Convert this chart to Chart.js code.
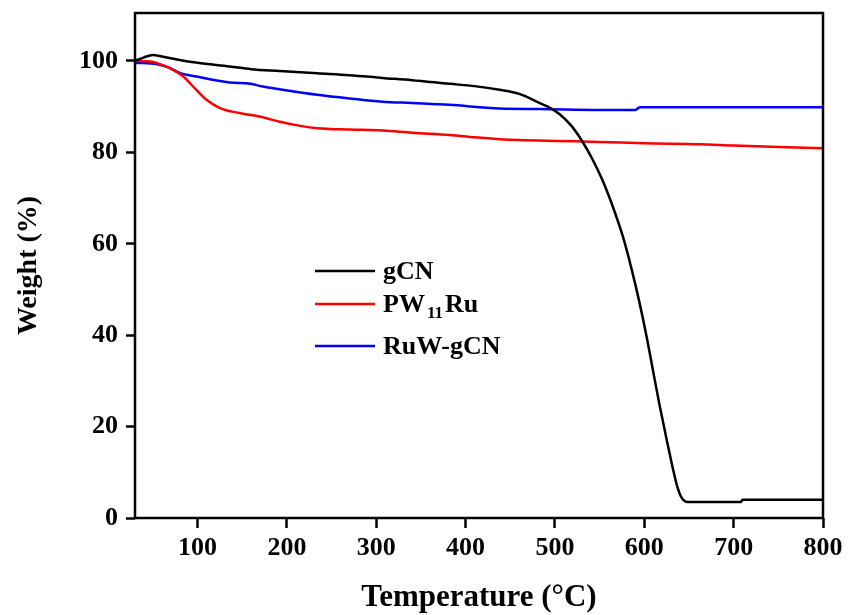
<!DOCTYPE html>
<html>
<head>
<meta charset="utf-8">
<script src="https://cdn.jsdelivr.net/npm/chart.js@4.4.0/dist/chart.umd.min.js"></script>
<style>
  html, body { margin: 0; padding: 0; background: #fff; }
  #wrap { width: 850px; height: 615px; position: relative; }
</style>
</head>
<body>
<div id="wrap"><canvas id="c" width="850" height="615"></canvas></div>
<script>
// ---- data ----
const seriesNames = ["gCN", "PW11Ru", "RuW-gCN"];

const tempGCN   = [30, 40, 50, 60, 80, 100, 136, 160, 192, 234, 270, 307, 340, 382, 410, 438, 460, 483, 494, 505, 518, 530, 542, 553, 565, 576, 586, 595, 603, 610, 617, 625, 632, 637, 641, 645, 649, 708, 710, 800];
const weightGCN = [100.0, 100.8, 101.3, 101.0, 100.2, 99.6, 98.8, 98.2, 97.8, 97.3, 96.9, 96.3, 95.8, 95.0, 94.5, 93.7, 92.8, 90.8, 89.8, 88.4, 85.9, 82.6, 78.5, 74.0, 68.0, 61.6, 54.3, 46.8, 39.3, 32.0, 24.8, 17.2, 10.8, 6.8, 4.7, 3.7, 3.5, 3.5, 4.0, 4.0];

const tempPW   = [30, 47, 58, 73, 84, 99, 110, 125, 147, 173, 192, 215, 234, 270, 307, 340, 382, 410, 438, 460, 500, 550, 600, 662, 700, 750, 800];
const weightPW = [100.0, 99.9, 99.3, 98.0, 96.6, 93.6, 91.5, 89.7, 88.6, 87.7, 86.7, 85.8, 85.3, 85.0, 84.8, 84.3, 83.8, 83.3, 82.9, 82.7, 82.5, 82.3, 82.0, 81.8, 81.5, 81.2, 80.9];

const tempRuW   = [30, 55, 69, 80, 99, 136, 159, 173, 192, 234, 270, 307, 340, 382, 438, 483, 550, 590, 595, 800];
const weightRuW = [99.6, 99.3, 98.5, 97.4, 96.6, 95.3, 95.0, 94.4, 93.8, 92.6, 91.8, 91.1, 90.8, 90.4, 89.6, 89.5, 89.3, 89.3, 89.9, 89.9];

const xTicks = [100, 200, 300, 400, 500, 600, 700, 800];
const yTicks = [0, 20, 40, 60, 80, 100];
// ----------------------------------------

const pts = (xs, ys) => xs.map((x, i) => ({ x: x, y: ys[i] }));
const colors = ["#000000", "#ff0000", "#0000ff"];

const serif = "'Liberation Serif', 'DejaVu Serif', serif";

const frame = {
  id: 'frame',
  afterDraw(chart) {
    const { ctx, chartArea: a } = chart;
    ctx.save();
    ctx.strokeStyle = '#000';
    ctx.lineWidth = 2.5;
    ctx.strokeRect(a.left, a.top, a.right - a.left, a.bottom - a.top);
    ctx.restore();
  }
};

const legendPlugin = {
  id: 'customLegend',
  afterDatasetsDraw(chart) {
    const ctx = chart.ctx;
    const x0 = 315, x1 = 375, tx = 383;
    const rows = [271, 304, 346];
    ctx.save();
    ctx.textBaseline = 'middle';
    ctx.fillStyle = '#000';
    rows.forEach((y, i) => {
      ctx.strokeStyle = colors[i];
      ctx.lineWidth = 2.5;
      ctx.beginPath(); ctx.moveTo(x0, y); ctx.lineTo(x1, y); ctx.stroke();
      ctx.font = "bold 26px " + serif;
      if (i === 1) {
        ctx.fillText("PW", tx, y + 1);
        let w = ctx.measureText("PW").width;
        ctx.font = "bold 17px " + serif;
        ctx.fillText("11", tx + w + 2, y + 10);
        let w2 = ctx.measureText("11").width;
        ctx.font = "bold 26px " + serif;
        ctx.fillText("Ru", tx + w + w2 + 4, y + 1);
      } else {
        ctx.fillText(seriesNames[i], tx, y + 1);
      }
    });
    ctx.restore();
  }
};

new Chart(document.getElementById('c'), {
  type: 'line',
  data: {
    datasets: [
      { label: seriesNames[0], data: pts(tempGCN, weightGCN) },
      { label: seriesNames[1], data: pts(tempPW, weightPW) },
      { label: seriesNames[2], data: pts(tempRuW, weightRuW) }
    ].map((d, i) => Object.assign(d, {
      borderColor: colors[i],
      backgroundColor: colors[i],
      borderWidth: 2.5,
      pointRadius: 0,
      fill: false,
      cubicInterpolationMode: 'monotone'
    }))
  },
  options: {
    responsive: false,
    animation: false,
    layout: { padding: { top: 13, right: 27, left: 0, bottom: 0 } },
    plugins: { legend: { display: false }, tooltip: { enabled: false } },
    scales: {
      x: {
        type: 'linear',
        min: 30, max: 800,
        afterBuildTicks: (axis) => { axis.ticks = xTicks.map(v => ({ value: v })); },
        afterFit: (axis) => { axis.height = 97; axis.paddingLeft = 0; axis.paddingRight = 0; },
        border: { display: false },
        grid: { drawOnChartArea: false, drawTicks: true, tickLength: 10, tickWidth: 2.5, color: '#000' },
        ticks: { color: '#000', font: { family: serif, size: 26, weight: 'bold' }, padding: 5, maxRotation: 0 },
        title: { display: true, text: 'Temperature (°C)', color: '#000', font: { family: serif, size: 31, weight: 'bold', lineHeight: 1 }, padding: { top: 0, bottom: 2 } }
      },
      y: {
        type: 'linear',
        min: 0, max: 110.5,
        afterBuildTicks: (axis) => { axis.ticks = yTicks.map(v => ({ value: v })); },
        afterFit: (axis) => { axis.width = 135; axis.paddingTop = 0; axis.paddingBottom = 0; },
        border: { display: false },
        grid: { drawOnChartArea: false, drawTicks: true, tickLength: 9, tickWidth: 2.5, color: '#000' },
        ticks: { color: '#000', font: { family: serif, size: 26, weight: 'bold' }, padding: 8 },
        title: { display: true, text: 'Weight (%)', color: '#000', font: { family: serif, size: 28, weight: 'bold', lineHeight: 1 }, padding: { top: 15, bottom: 0 } }
      }
    }
  },
  plugins: [frame, legendPlugin]
});
</script>
</body>
</html>
